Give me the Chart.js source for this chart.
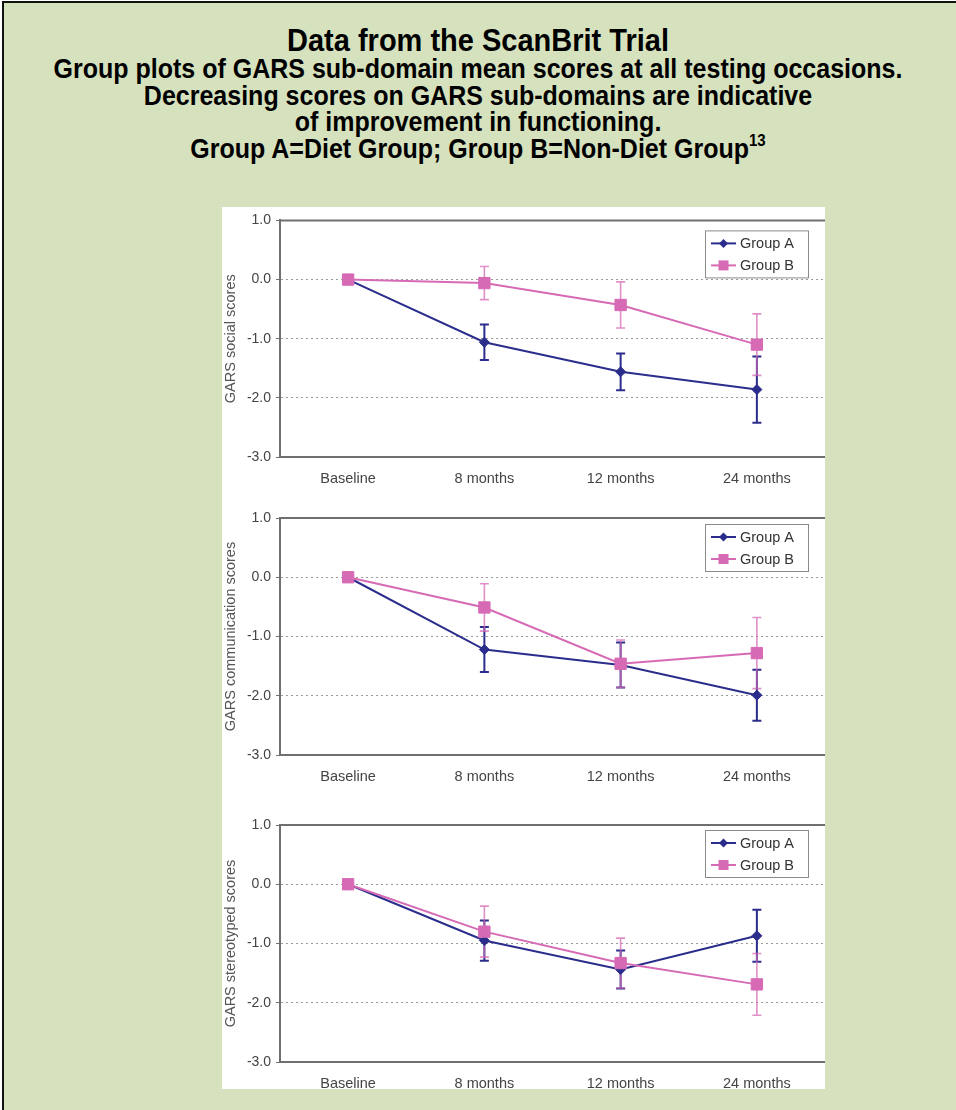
<!DOCTYPE html>
<html>
<head>
<meta charset="utf-8">
<script src="https://cdn.jsdelivr.net/npm/chart.js@4.4.1/dist/chart.umd.min.js"></script>
<style>
  html, body { margin: 0; padding: 0; background: #ffffff; }
  body { width: 956px; height: 1110px; position: relative; overflow: hidden; font-family: 'Liberation Sans', Arial, sans-serif; }
  #frame { position: absolute; left: 2px; top: 1px; width: 980px; height: 1140px; background: #d6e2bd; border-left: 2px solid #111; border-top: 2px solid #111; }
  .tl { position: absolute; left: 0; width: 956px; text-align: center; font-weight: bold; color: #000; white-space: nowrap; line-height: 1.2; transform: scaleY(1.1); }
  .tl sup { font-size: 15px; vertical-align: 0; position: relative; top: -11px; }
  #panel { position: absolute; left: 222px; top: 207px; width: 603px; height: 882px; background: #ffffff; overflow: hidden; }
  #panel canvas { position: absolute; left: 0; }
</style>
</head>
<body>
<div id="frame"></div>
<div class="tl" style="top:23px;font-size:29px;">Data from the ScanBrit Trial</div>
<div class="tl" style="top:53px;font-size:25px;">Group plots of GARS sub-domain mean scores at all testing occasions.</div>
<div class="tl" style="top:80px;font-size:25px;">Decreasing scores on GARS sub-domains are indicative</div>
<div class="tl" style="top:106px;font-size:25px;">of improvement in functioning.</div>
<div class="tl" style="top:133px;font-size:25px;">Group A=Diet Group; Group B=Non-Diet Group<sup>13</sup></div>
<div id="panel">
  <canvas id="c1" width="603" height="290" style="top:0px"></canvas>
  <canvas id="c2" width="603" height="300" style="top:290px"></canvas>
  <canvas id="c3" width="603" height="292" style="top:590px"></canvas>
</div>
<script>
// ---- data ----
const categories = ['Baseline', '8 months', '12 months', '24 months'];
const seriesNames = ['Group A', 'Group B'];
const yTickValues = [1, 0, -1, -2, -3];

const socialA = [0, -1.06, -1.56, -1.86];
const socialAErr = [0, 0.30, 0.31, 0.56];
const socialB = [0, -0.06, -0.43, -1.10];
const socialBErr = [0, 0.28, 0.39, 0.52];

const commA = [0, -1.22, -1.48, -1.99];
const commAErr = [0, 0.38, 0.38, 0.43];
const commB = [0, -0.51, -1.46, -1.28];
const commBErr = [0, 0.40, 0.40, 0.60];

const stereoA = [0, -0.95, -1.44, -0.87];
const stereoAErr = [0, 0.34, 0.32, 0.44];
const stereoB = [0, -0.80, -1.33, -1.69];
const stereoBErr = [0, 0.43, 0.42, 0.52];

const axisTitles = ['GARS social scores', 'GARS communication scores', 'GARS stereotyped scores'];

// ---- styles ----
const COLOR_A = '#2b2d8c';
const COLOR_B = '#d66ab5';
const COLOR_B_ERR = 'rgba(214,106,181,0.75)';
const FONT = "'Liberation Sans', Arial, sans-serif";

const errorBarPlugin = {
  id: 'errorBars',
  beforeDatasetsDraw(chart) {
    const ctx = chart.ctx;
    const ys = chart.scales.y;
    chart.data.datasets.forEach((ds, di) => {
      const meta = chart.getDatasetMeta(di);
      if (!ds.errors) return;
      ctx.save();
      ctx.strokeStyle = ds.errorColor;
      ctx.lineWidth = ds.errorWidth;
      meta.data.forEach((pt, i) => {
        const e = ds.errors[i];
        if (!e) return;
        const yTop = ys.getPixelForValue(ds.data[i] + e);
        const yBot = ys.getPixelForValue(ds.data[i] - e);
        const x = pt.x;
        ctx.beginPath();
        ctx.moveTo(x, yTop); ctx.lineTo(x, yBot);
        ctx.moveTo(x - 4.5, yTop); ctx.lineTo(x + 4.5, yTop);
        ctx.moveTo(x - 4.5, yBot); ctx.lineTo(x + 4.5, yBot);
        ctx.stroke();
      });
      ctx.restore();
    });
  }
};

const framePlugin = {
  id: 'frameTop',
  afterDraw(chart) {
    const {ctx, chartArea} = chart;
    ctx.save();
    ctx.strokeStyle = '#6f6f6f';
    ctx.lineWidth = 2;
    ctx.beginPath();
    ctx.moveTo(chartArea.left, chartArea.top);
    ctx.lineTo(chartArea.right, chartArea.top);
    ctx.stroke();
    ctx.restore();
  }
};

const legendPlugin = {
  id: 'boxLegend',
  afterDraw(chart, args, opts) {
    const {ctx, chartArea} = chart;
    const w = 103, h = 47;
    const x0 = chartArea.right - 17 - w;
    const y0 = chartArea.top + (opts.offsetTop || 8);
    ctx.save();
    ctx.fillStyle = '#ffffff';
    ctx.fillRect(x0, y0, w, h);
    ctx.strokeStyle = '#8a8a8a';
    ctx.lineWidth = 1;
    ctx.strokeRect(x0 + 0.5, y0 + 0.5, w, h);
    chart.data.datasets.slice().sort((a, b) => a.legendIndex - b.legendIndex).forEach((ds, i) => {
      const cy = y0 + 13 + i * 22;
      ctx.strokeStyle = ds.borderColor;
      ctx.lineWidth = 2;
      ctx.beginPath();
      ctx.moveTo(x0 + 6, cy); ctx.lineTo(x0 + 31, cy);
      ctx.stroke();
      ctx.fillStyle = ds.pointBackgroundColor;
      if (ds.pointStyle === 'rectRot') {
        const r = 4.5;
        ctx.beginPath();
        ctx.moveTo(x0 + 18.5, cy - r); ctx.lineTo(x0 + 18.5 + r, cy);
        ctx.lineTo(x0 + 18.5, cy + r); ctx.lineTo(x0 + 18.5 - r, cy);
        ctx.closePath(); ctx.fill();
      } else {
        ctx.fillRect(x0 + 18.5 - 5, cy - 5, 10, 10);
      }
      ctx.fillStyle = '#333333';
      ctx.font = '14.5px ' + FONT;
      ctx.textBaseline = 'middle';
      ctx.textAlign = 'left';
      ctx.fillText(seriesNames[ds.legendIndex], x0 + 35, cy + 1);
    });
    ctx.restore();
  }
};

function makeChart(id, a, aErr, b, bErr, title, padTop, xHeight, legendTop) {
  return new Chart(document.getElementById(id), {
    type: 'line',
    data: {
      labels: categories,
      datasets: [
        {
          label: seriesNames[0], legendIndex: 0, data: a, errors: aErr,
          errorColor: COLOR_A, errorWidth: 2,
          borderColor: COLOR_A, backgroundColor: COLOR_A, borderWidth: 2,
          pointStyle: 'rectRot', pointRadius: 5, pointBackgroundColor: COLOR_A, pointBorderColor: COLOR_A, pointBorderWidth: 1,
          tension: 0, order: 1
        },
        {
          label: seriesNames[1], legendIndex: 1, data: b, errors: bErr,
          errorColor: COLOR_B_ERR, errorWidth: 1.6,
          borderColor: COLOR_B, backgroundColor: COLOR_B, borderWidth: 2,
          pointStyle: 'rect', pointRadius: 8, pointBackgroundColor: COLOR_B, pointBorderColor: COLOR_B, pointBorderWidth: 1,
          tension: 0, order: 0
        }
      ]
    },
    options: {
      responsive: false,
      animation: false,
      layout: { autoPadding: false, padding: { top: padTop, right: 0, left: 0, bottom: 0 } },
      plugins: { legend: { display: false }, tooltip: { enabled: false }, boxLegend: { offsetTop: legendTop } },
      scales: {
        x: {
          type: 'category',
          offset: true,
          grid: { display: false },
          border: { display: true, color: '#6f6f6f', width: 2 },
          ticks: { color: '#444444', font: { family: FONT, size: 14.5 }, padding: 5, maxRotation: 0, autoSkip: false },
          afterFit(s) { s.height = xHeight; }
        },
        y: {
          min: -3, max: 1,
          afterBuildTicks(s) { s.ticks = yTickValues.map(v => ({ value: v })); },
          ticks: { color: '#444444', font: { family: FONT, size: 14 }, padding: 5, callback: v => Number(v).toFixed(1) },
          grid: {
            color: c => (c.tick && c.tick.value < 1 && c.tick.value > -3) ? '#9a9a9a' : 'rgba(0,0,0,0)',
            lineWidth: 1,
            tickColor: '#6f6f6f',
            tickLength: 4,
            drawTicks: true
          },
          border: { display: true, color: '#6f6f6f', width: 2, dash: [2, 3] },
          title: { display: true, text: title, color: '#555555', font: { family: FONT, size: 14.5 }, padding: { top: 0, bottom: 0 } },
          afterFit(s) { s.width = 58; }
        }
      }
    },
    plugins: [errorBarPlugin, framePlugin, legendPlugin]
  });
}

makeChart('c1', socialA, socialAErr, socialB, socialBErr, axisTitles[0], 11, 40, 10);
makeChart('c2', commA, commAErr, commB, commBErr, axisTitles[1], 21, 42, 6);
makeChart('c3', stereoA, stereoAErr, stereoB, stereoBErr, axisTitles[2], 28, 27, 5);
</script>
</body>
</html>
